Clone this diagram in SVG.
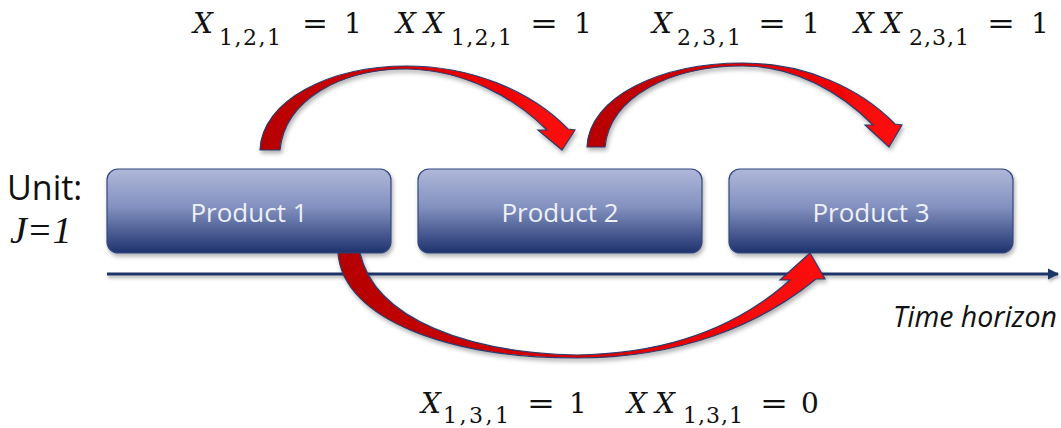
<svg xmlns="http://www.w3.org/2000/svg" width="1061" height="428" viewBox="0 0 1061 428">
<defs>
  <linearGradient id="boxGrad" x1="0" y1="0" x2="0" y2="1">
    <stop offset="0" stop-color="#b0b8d9"/>
    <stop offset="0.45" stop-color="#8391c0"/>
    <stop offset="1" stop-color="#1e326d"/>
  </linearGradient>
  <linearGradient id="redGrad" x1="0" y1="0" x2="1" y2="0">
    <stop offset="0" stop-color="#b50000"/>
    <stop offset="0.5" stop-color="#dd0000"/>
    <stop offset="1" stop-color="#ff0a0a"/>
  </linearGradient>
  <filter id="shadow" x="-10%" y="-10%" width="120%" height="140%">
    <feDropShadow dx="1.5" dy="3" stdDeviation="2" flood-color="#000" flood-opacity="0.3"/>
  </filter>
  <filter id="lineShadow" filterUnits="userSpaceOnUse" x="90" y="260" width="980" height="30">
    <feDropShadow dx="1" dy="2.5" stdDeviation="1.5" flood-color="#000" flood-opacity="0.3"/>
  </filter>
  <marker id="lineHead" viewBox="0 0 10 10" refX="9" refY="5" markerWidth="4" markerHeight="4" orient="auto" markerUnits="strokeWidth">
    <path d="M0,0 L10,5 L0,10 Z" fill="#1f3568"/>
  </marker>
  <style>
    .box { fill: url(#boxGrad); stroke: #34487e; stroke-width: 1.2; filter: url(#shadow); }
    .ptext { font-family: "Open Sans", "Liberation Sans", sans-serif; font-size: 26px; fill: #eef0f7; text-anchor: middle; }
    .arrow { fill: url(#redGrad); stroke: #2e3c6c; stroke-width: 1.2; stroke-linejoin: miter; filter: url(#shadow); }
    .mx { font-family: "DejaVu Serif", "Liberation Serif", serif; font-style: italic; font-size: 28px; fill: #111; }
    .mn { font-family: "DejaVu Serif", "Liberation Serif", serif; font-size: 28px; fill: #111; }
    .ms { font-family: "DejaVu Serif", "Liberation Serif", serif; font-size: 22px; fill: #111; }
    .lbl { font-family: "Open Sans", "Liberation Sans", sans-serif; fill: #111; }
  </style>
</defs>

<!-- time axis -->
<g id="time-axis">
  <line x1="107" y1="274" x2="1058" y2="274" stroke="#1f3568" stroke-width="2.8" marker-end="url(#lineHead)" filter="url(#lineShadow)"/>
  <text class="lbl" x="893" y="327" font-size="28.5" font-style="italic">Time horizon</text>
</g>

<!-- unit label -->
<g id="unit-label">
  <text class="lbl" x="7" y="200" font-size="34">Unit:</text>
  <text x="10" y="243" font-family="Liberation Serif, DejaVu Serif, serif" font-style="italic" font-size="38" fill="#111">J=1</text>
</g>

<!-- nodes -->
<g id="product1">
  <rect class="box" x="107" y="169" width="284" height="84" rx="11" ry="11"/>
  <text class="ptext" x="249" y="222">Product 1</text>
</g>
<g id="product2">
  <rect class="box" x="418" y="169" width="284" height="84" rx="11" ry="11"/>
  <text class="ptext" x="560" y="222">Product 2</text>
</g>
<g id="product3">
  <rect class="box" x="729" y="169" width="284" height="84" rx="11" ry="11"/>
  <text class="ptext" x="871" y="222">Product 3</text>
</g>

<!-- connectors -->
<g id="connectors">
  <path class="arrow" d="M260,150 C262,100 330,66 407,66 C470,66 530,90 568,129 L575,130 L562,150 L538,130 L547,130 C515,98 465,70 407,69 C340,69 285,100 280,150 Z"/>
  <path class="arrow" d="M587,147 C589,97 660,63 743,63 C805,63 860,88 895,124 L902,125 L889,147 L865,125 L873,125 C840,92 795,66 743,66 C670,66 610,97 605,147 Z"/>
  <path class="arrow" d="M338,253 C343,320 450,358 577,358 C680,358 760,325 816,279 L825,279 L810,253 L780,280 L790,280 C740,325 670,354 577,355 C470,353 375,320 360,253 Z"/>
</g>

<!-- labels -->
<g id="label-x121">
  <text class="mx" x="193" y="33">X</text>
  <text class="ms" x="219" y="45" textLength="62" lengthAdjust="spacing">1,2,1</text>
  <text class="mn" x="302" y="33" textLength="26" lengthAdjust="spacingAndGlyphs">=</text>
  <text class="mn" x="344" y="33">1</text>
  <text class="mx" x="396" y="33">X</text>
  <text class="mx" x="424" y="33">X</text>
  <text class="ms" x="451" y="45" textLength="61" lengthAdjust="spacing">1,2,1</text>
  <text class="mn" x="530" y="33" textLength="28" lengthAdjust="spacingAndGlyphs">=</text>
  <text class="mn" x="574" y="33">1</text>
</g>
<g id="label-x231">
  <text class="mx" x="652" y="33">X</text>
  <text class="ms" x="677" y="45" textLength="64" lengthAdjust="spacing">2,3,1</text>
  <text class="mn" x="758" y="33" textLength="28" lengthAdjust="spacingAndGlyphs">=</text>
  <text class="mn" x="802" y="33">1</text>
  <text class="mx" x="854" y="33">X</text>
  <text class="mx" x="882" y="33">X</text>
  <text class="ms" x="909" y="45" textLength="60" lengthAdjust="spacing">2,3,1</text>
  <text class="mn" x="987" y="33" textLength="28" lengthAdjust="spacingAndGlyphs">=</text>
  <text class="mn" x="1031" y="33">1</text>
</g>
<g id="label-x131">
  <text class="mx" x="421" y="413">X</text>
  <text class="ms" x="443" y="423" textLength="66" lengthAdjust="spacing">1,3,1</text>
  <text class="mn" x="527" y="413" textLength="28" lengthAdjust="spacingAndGlyphs">=</text>
  <text class="mn" x="569" y="413">1</text>
  <text class="mx" x="627" y="413">X</text>
  <text class="mx" x="655" y="413">X</text>
  <text class="ms" x="683" y="423" textLength="60" lengthAdjust="spacing">1,3,1</text>
  <text class="mn" x="760" y="413" textLength="28" lengthAdjust="spacingAndGlyphs">=</text>
  <text class="mn" x="801" y="413">0</text>
</g>
</svg>
